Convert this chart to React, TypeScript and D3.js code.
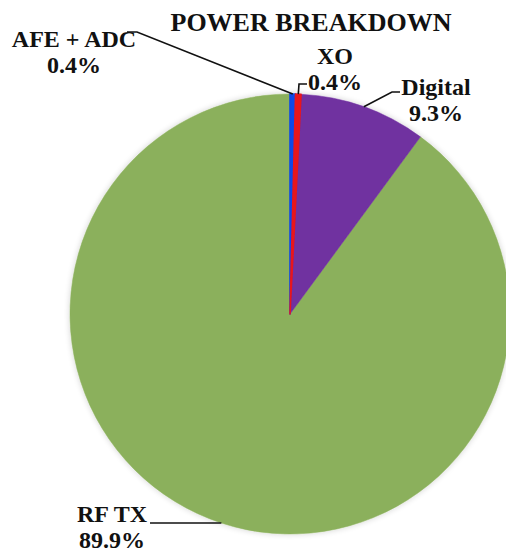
import React from "react";
import * as d3 from "d3";

// Power share of each block, in percent, clockwise from 12 o'clock
const categories = ["AFE + ADC", "XO", "Digital", "RF TX"];
const shares = [0.4, 0.4, 9.3, 89.9];
const sliceColors = ["#1148E8", "#E8141E", "#7030A0", "#8BB05B"];

// Label placement: text centre, first baseline, and the leader elbow/end points
const labelLayout = [
  { x: 74, y: 47, elbow: [137, 32], end: [127, 32] },
  { x: 335, y: 64, elbow: [299, 84], end: [307, 84] },
  { x: 436, y: 95, elbow: [392, 92], end: [400, 92] },
  { x: 112, y: 522, elbow: [150, 523], end: [150, 523] },
];

const W = 506;
const H = 552;
const CX = 290;
const CY = 314;
const R = 220;
const FONT = "'Liberation Serif', 'Times New Roman', serif";

export default function App() {
  const pie = d3
    .pie<number>()
    .sort(null)
    .value((d) => d)
    .startAngle(0)
    .endAngle(2 * Math.PI);
  const arcs = pie(shares);
  const arc = d3.arc<d3.PieArcDatum<number>>().innerRadius(0).outerRadius(R);
  const pct = d3.format(".1f");
  // paint large slices first so the thin ones stay visible on top
  const paintOrder = arcs
    .map((a, i) => ({ a, i }))
    .sort((p, q) => q.a.value - p.a.value);

  return (
    <svg
      width={W}
      height={H}
      style={{ position: "absolute", left: 0, top: 0, background: "#fff" }}
    >
      <defs>
        <filter id="halo" x="-10%" y="-10%" width="120%" height="120%">
          <feGaussianBlur in="SourceAlpha" stdDeviation="3" />
          <feComponentTransfer>
            <feFuncA type="linear" slope="0.18" />
          </feComponentTransfer>
          <feMerge>
            <feMergeNode />
            <feMergeNode in="SourceGraphic" />
          </feMerge>
        </filter>
      </defs>

      <text
        x={311}
        y={31}
        textAnchor="middle"
        fontFamily={FONT}
        fontWeight="bold"
        fontSize={26}
        fill="#111"
      >
        POWER BREAKDOWN
      </text>

      <g transform={`translate(${CX},${CY})`} filter="url(#halo)">
        {paintOrder.map(({ a, i }) => (
          <path
            key={categories[i]}
            d={arc(a) ?? ""}
            fill={sliceColors[i]}
            stroke={sliceColors[i]}
            strokeWidth={a.value < 1 ? 1.6 : 0.5}
            strokeLinejoin="round"
          />
        ))}
      </g>

      {arcs.map((a, i) => {
        const mid = (a.startAngle + a.endAngle) / 2;
        const sx = CX + R * Math.sin(mid);
        const sy = CY - R * Math.cos(mid);
        const L = labelLayout[i];
        const pts: [number, number][] = [
          [sx, sy],
          [L.elbow[0], L.elbow[1]],
          [L.end[0], L.end[1]],
        ];
        return (
          <g key={categories[i]}>
            <path
              d={d3.line()(pts) ?? ""}
              fill="none"
              stroke="#111"
              strokeWidth={1.6}
            />
            <text
              x={L.x}
              y={L.y}
              textAnchor="middle"
              fontFamily={FONT}
              fontWeight="bold"
              fontSize={24}
              fill="#111"
            >
              <tspan x={L.x}>{categories[i]}</tspan>
              <tspan x={L.x} dy={26}>
                {pct(shares[i])}%
              </tspan>
            </text>
          </g>
        );
      })}
    </svg>
  );
}
